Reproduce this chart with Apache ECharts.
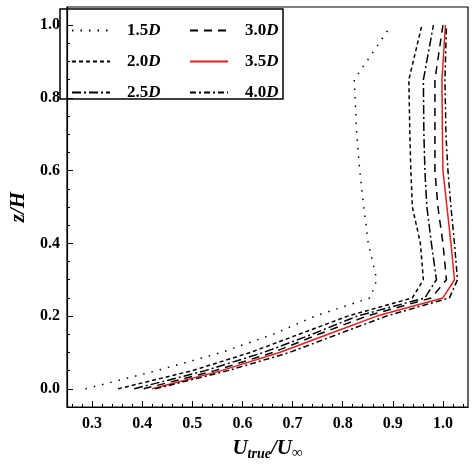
<!DOCTYPE html>
<html>
<head>
<meta charset="utf-8">
<script src="https://cdn.jsdelivr.net/npm/echarts@6/dist/echarts.min.js"></script>
<style>html,body{margin:0;padding:0;background:#fff}#chart{width:476px;height:466px}</style>
</head>
<body>
<div id="chart"></div>
<script>
// z/H levels shared by all profiles
const zLevels = [0, 0.05, 0.1, 0.15, 0.2, 0.25, 0.3, 0.4, 0.5, 0.6, 0.7, 0.85, 1.0];
const u15 = [0.287, 0.429, 0.558, 0.661, 0.745, 0.855, 0.868, 0.851, 0.842, 0.834, 0.828, 0.823, 0.897];
const u20 = [0.352, 0.500, 0.616, 0.713, 0.810, 0.939, 0.961, 0.955, 0.939, 0.936, 0.934, 0.932, 0.958];
const u25 = [0.384, 0.526, 0.642, 0.739, 0.829, 0.964, 0.987, 0.977, 0.968, 0.964, 0.962, 0.961, 0.981];
const u30 = [0.403, 0.545, 0.661, 0.752, 0.848, 0.977, 1.007, 1.000, 0.990, 0.984, 0.984, 0.984, 1.000];
const u35 = [0.420, 0.558, 0.674, 0.771, 0.868, 1.000, 1.023, 1.016, 1.008, 1.000, 0.999, 0.998, 1.005];
const u40 = [0.426, 0.571, 0.694, 0.790, 0.887, 1.013, 1.029, 1.023, 1.016, 1.010, 1.006, 1.004, 1.007];

const xMajor = [0.3, 0.4, 0.5, 0.6, 0.7, 0.8, 0.9, 1.0];
const xMinor = [];
for (let v = 0.26; v < 1.05; v += 0.02) xMinor.push(+v.toFixed(2));
const yMajor = [0, 0.2, 0.4, 0.6, 0.8, 1.0];
const yMinor = [0.05, 0.1, 0.15, 0.25, 0.3, 0.35, 0.45, 0.5, 0.55, 0.65, 0.7, 0.75, 0.85, 0.9, 0.95];

const pair = arr => arr.map((u, i) => [u, zLevels[i]]);
const serif = 'Liberation Serif';

const lines = [
  { name: '1.5', data: u15, color: '#000', type: [1.5, 7] },
  { name: '2.0', data: u20, color: '#000', type: [4, 3] },
  { name: '2.5', data: u25, color: '#000', type: [9, 3, 2, 3] },
  { name: '3.0', data: u30, color: '#000', type: [8, 6] },
  { name: '3.5', data: u35, color: '#e02020', type: 'solid' },
  { name: '4.0', data: u40, color: '#000', type: [6, 3, 2, 3] }
];

const legendText = {
  padding: [0, 0, 0, 12],
  rich: {
    b: { fontFamily: serif, fontWeight: 'bold', fontSize: 17, color: '#000' },
    i: { fontFamily: serif, fontWeight: 'bold', fontStyle: 'italic', fontSize: 17, color: '#000' }
  }
};
const legendBase = {
  orient: 'vertical', top: 17, itemWidth: 38, itemHeight: 10, itemGap: 14,
  itemStyle: { opacity: 0 },
  formatter: n => '{b|' + n + '}{i|D}',
  textStyle: legendText
};

const chart = echarts.init(document.getElementById('chart'));
chart.setOption({
  animation: false,
  grid: { left: 57, right: 8, top: 7, bottom: 50, show: true, borderColor: '#000', borderWidth: 1.2 },
  legend: [
    Object.assign({}, legendBase, { left: 66, data: ['1.5', '2.0', '2.5'] }),
    Object.assign({}, legendBase, { left: 184, data: ['3.0', '3.5', '4.0'] })
  ],
  graphic: [{ type: 'rect', shape: { x: 60, y: 9, width: 223, height: 90 }, style: { fill: 'none', stroke: '#000', lineWidth: 1.5 }, z: 100 }],
  xAxis: [{
    type: 'value', min: 0.25, max: 1.05,
    name: '{u|U}{s|true}{u|/U}{n|∞}', nameLocation: 'middle', nameGap: 30,
    nameTextStyle: { rich: {
      u: { fontFamily: serif, fontWeight: 'bold', fontStyle: 'italic', fontSize: 21, color: '#000' },
      s: { fontFamily: serif, fontWeight: 'bold', fontStyle: 'italic', fontSize: 14, color: '#000', verticalAlign: 'bottom', padding: [9, 0, 0, 0] },
      n: { fontFamily: serif, fontSize: 15, color: '#000', verticalAlign: 'bottom', padding: [9, 0, 0, 0] }
    } },
    axisLine: { onZero: false, lineStyle: { color: '#000', width: 1.2 } },
    axisTick: { inside: true, length: 6, customValues: xMajor, lineStyle: { color: '#000' } },
    axisLabel: { customValues: xMajor, formatter: v => v.toFixed(1), fontFamily: serif, fontWeight: 'bold', fontSize: 16, color: '#000', margin: 9 },
    splitLine: { show: false }
  }, {
    type: 'value', min: 0.25, max: 1.05, position: 'bottom',
    axisLine: { show: false, onZero: false }, axisLabel: { show: false }, splitLine: { show: false },
    axisTick: { inside: true, length: 3, customValues: xMinor, lineStyle: { color: '#000' } }
  }],
  yAxis: [{
    type: 'value', min: -0.05, max: 1.05,
    name: '{z|z/H}', nameLocation: 'middle', nameGap: 38, nameRotate: 90,
    nameTextStyle: { rich: { z: { fontFamily: serif, fontWeight: 'bold', fontStyle: 'italic', fontSize: 21, color: '#000' } } },
    axisLine: { onZero: false, lineStyle: { color: '#000', width: 1.2 } },
    axisTick: { inside: true, length: 6, customValues: yMajor, lineStyle: { color: '#000' } },
    axisLabel: { customValues: yMajor, formatter: v => v.toFixed(1), fontFamily: serif, fontWeight: 'bold', fontSize: 16, color: '#000', margin: 7 },
    splitLine: { show: false }
  }, {
    type: 'value', min: -0.05, max: 1.05, position: 'left',
    axisLine: { show: false, onZero: false }, axisLabel: { show: false }, splitLine: { show: false },
    axisTick: { inside: true, length: 3, customValues: yMinor, lineStyle: { color: '#000' } }
  }],
  series: lines.map(l => ({
    name: l.name, type: 'line', data: pair(l.data), symbol: 'none',
    itemStyle: { color: l.color },
    lineStyle: { color: l.color, type: l.type, width: 1.5 }
  }))
});
</script>
</body>
</html>
